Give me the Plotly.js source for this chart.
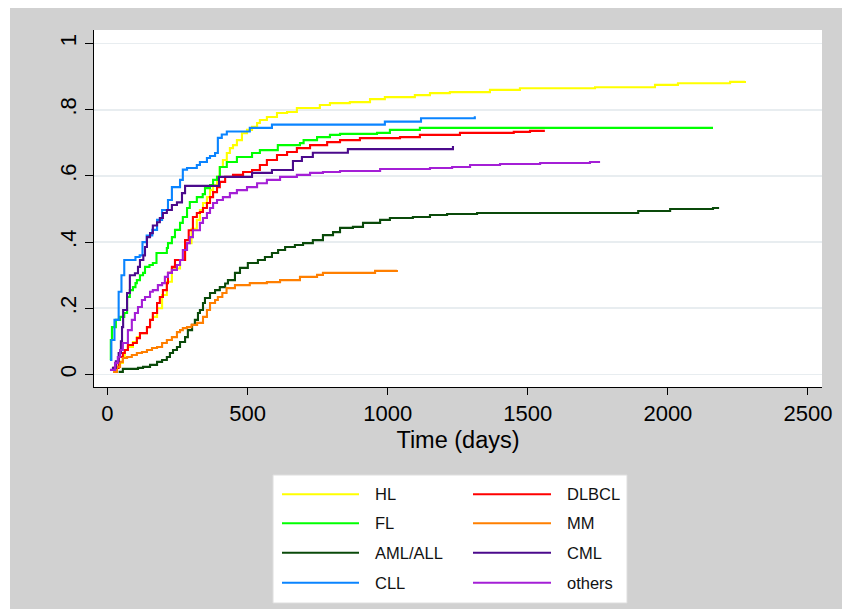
<!DOCTYPE html>
<html><head><meta charset="utf-8">
<script src="https://cdn.plot.ly/plotly-3.0.1.min.js"></script>
<style>
html,body{margin:0;padding:0;background:#ffffff;}
#chart{position:absolute;left:10px;top:8px;width:832px;height:601px;}
</style>
</head><body><div id="chart"></div>
<script>
// ---- data (days, cumulative incidence) ----
const groupNames = ['HL','FL','AML/ALL','CLL','DLBCL','MM','CML','others'];
const groupColors = ['#ffff00','#00ff00','#0a4a0a','#0a84ff','#ff0000','#ff7f00','#4b0a8c','#a41fd6'];

const hlDays = [16,30,55,62,73,91,105,116,141,152,162,177,195,212,230,259,277,300,319,330,341,355,366,377,391,401,412,426,437,448,462,480,498,516,534,544,569,605,641,676,758,794,865,937,990,1097,1151,1222,1365,1472,1740,1954,2036,2222,2275];
const hlCif = [0.02,0.035,0.05,0.074,0.083,0.098,0.113,0.125,0.143,0.165,0.174,0.2,0.24,0.28,0.32,0.346,0.397,0.44,0.467,0.497,0.518,0.536,0.557,0.572,0.597,0.627,0.648,0.669,0.684,0.693,0.708,0.729,0.739,0.748,0.76,0.769,0.778,0.79,0.793,0.805,0.814,0.82,0.823,0.832,0.838,0.844,0.85,0.853,0.86,0.865,0.868,0.875,0.88,0.884,0.887];

const flDays = [9,12,16,30,45,60,70,80,91,100,105,116,127,134,150,162,175,212,216,230,241,259,269,284,294,319,340,348,366,377,391,401,426,462,516,544,608,687,700,748,794,830,962,1008,1115,2161];
const flCif = [0.044,0.104,0.143,0.165,0.174,0.186,0.234,0.255,0.264,0.276,0.285,0.30,0.307,0.325,0.331,0.337,0.367,0.382,0.397,0.415,0.437,0.458,0.476,0.503,0.521,0.536,0.545,0.563,0.572,0.588,0.597,0.627,0.642,0.657,0.669,0.678,0.693,0.699,0.708,0.717,0.724,0.727,0.73,0.739,0.745,0.745];

const amlDays = [40,55,109,127,152,177,195,212,223,234,248,259,277,287,302,312,323,330,341,348,366,384,401,420,430,455,473,501,537,562,587,609,634,669,698,733,769,805,830,876,912,973,1008,1090,1151,1212,1319,1894,2008,2161,2179];
const amlCif = [0.008,0.017,0.02,0.023,0.029,0.038,0.044,0.053,0.065,0.074,0.083,0.098,0.113,0.134,0.15,0.165,0.186,0.195,0.216,0.231,0.246,0.255,0.264,0.275,0.285,0.307,0.322,0.337,0.346,0.355,0.367,0.376,0.385,0.391,0.397,0.406,0.421,0.43,0.443,0.446,0.458,0.467,0.473,0.476,0.482,0.485,0.488,0.494,0.5,0.503,0.506];

const cllDays = [9,14,25,40,50,60,100,115,125,140,160,177,195,216,230,259,269,284,319,330,355,366,384,394,408,426,508,587,990,1119,1311];
const cllCif = [0.044,0.104,0.165,0.25,0.30,0.346,0.355,0.36,0.40,0.42,0.437,0.467,0.497,0.527,0.566,0.588,0.619,0.624,0.633,0.642,0.654,0.66,0.669,0.715,0.725,0.734,0.745,0.755,0.764,0.774,0.78];

const dlbclDays = [20,40,55,62,73,91,105,116,141,152,162,177,187,198,212,216,230,241,277,290,305,319,330,341,355,366,377,391,401,420,448,484,516,544,569,605,641,676,723,784,830,901,1044,1115,1258,1450,1508,1561];
const dlbclCif = [0.02,0.053,0.065,0.074,0.089,0.095,0.11,0.125,0.143,0.165,0.186,0.216,0.234,0.255,0.276,0.307,0.325,0.346,0.406,0.436,0.476,0.488,0.491,0.503,0.518,0.536,0.551,0.566,0.582,0.597,0.603,0.612,0.618,0.633,0.648,0.663,0.672,0.684,0.693,0.702,0.708,0.714,0.717,0.724,0.73,0.733,0.736,0.736];

const mmDays = [20,34,45,55,70,87,105,123,141,159,177,195,212,230,248,259,269,284,300,320,341,355,366,384,394,410,425,455,508,569,616,687,748,769,955,1033];
const mmCif = [0.008,0.023,0.038,0.05,0.053,0.059,0.065,0.068,0.074,0.08,0.083,0.095,0.104,0.113,0.128,0.134,0.14,0.143,0.15,0.156,0.174,0.195,0.216,0.225,0.234,0.246,0.261,0.27,0.276,0.279,0.285,0.295,0.301,0.307,0.313,0.316];

const cmlDays = [16,30,40,48,52,56,70,80,98,109,116,128,134,141,152,162,177,187,198,212,230,248,266,277,398,516,587,662,694,733,858,1233];
const cmlCif = [0.02,0.04,0.065,0.1,0.143,0.195,0.246,0.30,0.306,0.325,0.346,0.36,0.385,0.415,0.427,0.45,0.46,0.473,0.488,0.497,0.512,0.52,0.548,0.57,0.597,0.609,0.618,0.645,0.657,0.67,0.681,0.69];

const othersDays = [9,27,37,45,55,73,87,98,109,123,134,152,162,180,195,205,216,230,248,259,269,284,294,305,330,341,355,366,377,391,412,437,462,498,534,569,616,676,723,769,830,973,1151,1230,1294,1401,1544,1722,1758];
const othersCif = [0.014,0.035,0.053,0.074,0.095,0.134,0.165,0.186,0.204,0.225,0.234,0.25,0.255,0.27,0.276,0.295,0.307,0.316,0.331,0.346,0.376,0.397,0.415,0.436,0.458,0.473,0.488,0.503,0.518,0.527,0.536,0.548,0.557,0.566,0.578,0.588,0.597,0.603,0.609,0.612,0.615,0.621,0.624,0.627,0.633,0.636,0.639,0.642,0.642];

const xTicks = [0,500,1000,1500,2000,2500];
const yTicks = [0,0.2,0.4,0.6,0.8,1];
const yTickText = ['0','.2','.4','.6','.8','1'];
const xTitle = 'Time (days)';
const legendOrder = ['HL','DLBCL','FL','MM','AML/ALL','CML','CLL','others'];

// ---- build ----
const allDays = [hlDays,flDays,amlDays,cllDays,dlbclDays,mmDays,cmlDays,othersDays];
const allCif = [hlCif,flCif,amlCif,cllCif,dlbclCif,mmCif,cmlCif,othersCif];

const traces = groupNames.map((n,i)=>({
  type:'scatter', mode:'lines', name:n,
  x: allDays[i], y: allCif[i],
  line:{color:groupColors[i], width:2.1, shape:'hv'},
  showlegend:false, hoverinfo:'skip'
}));

const FONT = 'Liberation Sans, Arial, Helvetica, sans-serif';
// plot area in page px: left 94, right 822, top 30, bottom 387
const PX = p => (p-94)/728;
const PY = p => (387-p)/357;

const shapes = [{
  type:'rect', xref:'paper', yref:'paper', layer:'below',
  x0:PX(273), x1:PX(627), y0:PY(603), y1:PY(475),
  fillcolor:'#ffffff', line:{color:'#dedede', width:1}
}];
const annotations = [];
const colX = [[282,359,372.5],[473,551,564.5]];
const rowY = [494.3,523.3,552.7,582.7];
legendOrder.forEach((n,k)=>{
  const i = groupNames.indexOf(n);
  const c = colX[k%2], r = rowY[Math.floor(k/2)];
  shapes.push({type:'line', xref:'paper', yref:'paper', layer:'above',
    x0:PX(c[0]), x1:PX(c[1]), y0:PY(r), y1:PY(r),
    line:{color:groupColors[i], width:2}});
  annotations.push({xref:'paper', yref:'paper', x:PX(c[2]), y:PY(r),
    xanchor:'left', yanchor:'middle', showarrow:false, text:n,
    font:{family:FONT, size:16.5, color:'#111111'}});
});

const layout = {
  width:832, height:601,
  margin:{l:84, r:20, t:22, b:222, pad:0},
  paper_bgcolor:'#d1d1d1', plot_bgcolor:'#ffffff',
  font:{family:FONT, color:'#000000'},
  showlegend:false,
  xaxis:{
    range:[-48,2550], tickvals:xTicks, ticks:'outside', ticklen:7, tickwidth:1, tickcolor:'#000',
    showline:true, linecolor:'#000', linewidth:1, showgrid:false, zeroline:false,
    tickfont:{family:FONT, size:22, color:'#000'},
    title:{text:xTitle, font:{family:FONT, size:23.5, color:'#000'}, standoff:6}
  },
  yaxis:{
    range:[-0.0378,1.0408], tickvals:yTicks, ticktext:yTickText, tickangle:-90,
    ticks:'outside', ticklen:8, tickwidth:1, tickcolor:'#000',
    showline:true, linecolor:'#000', linewidth:1,
    showgrid:true, gridcolor:'#e8edf0', gridwidth:1.6, zeroline:false,
    tickfont:{family:FONT, size:22, color:'#000'}
  },
  shapes:shapes, annotations:annotations
};

Plotly.newPlot('chart', traces, layout, {displayModeBar:false, staticPlot:true});
</script></body></html>
